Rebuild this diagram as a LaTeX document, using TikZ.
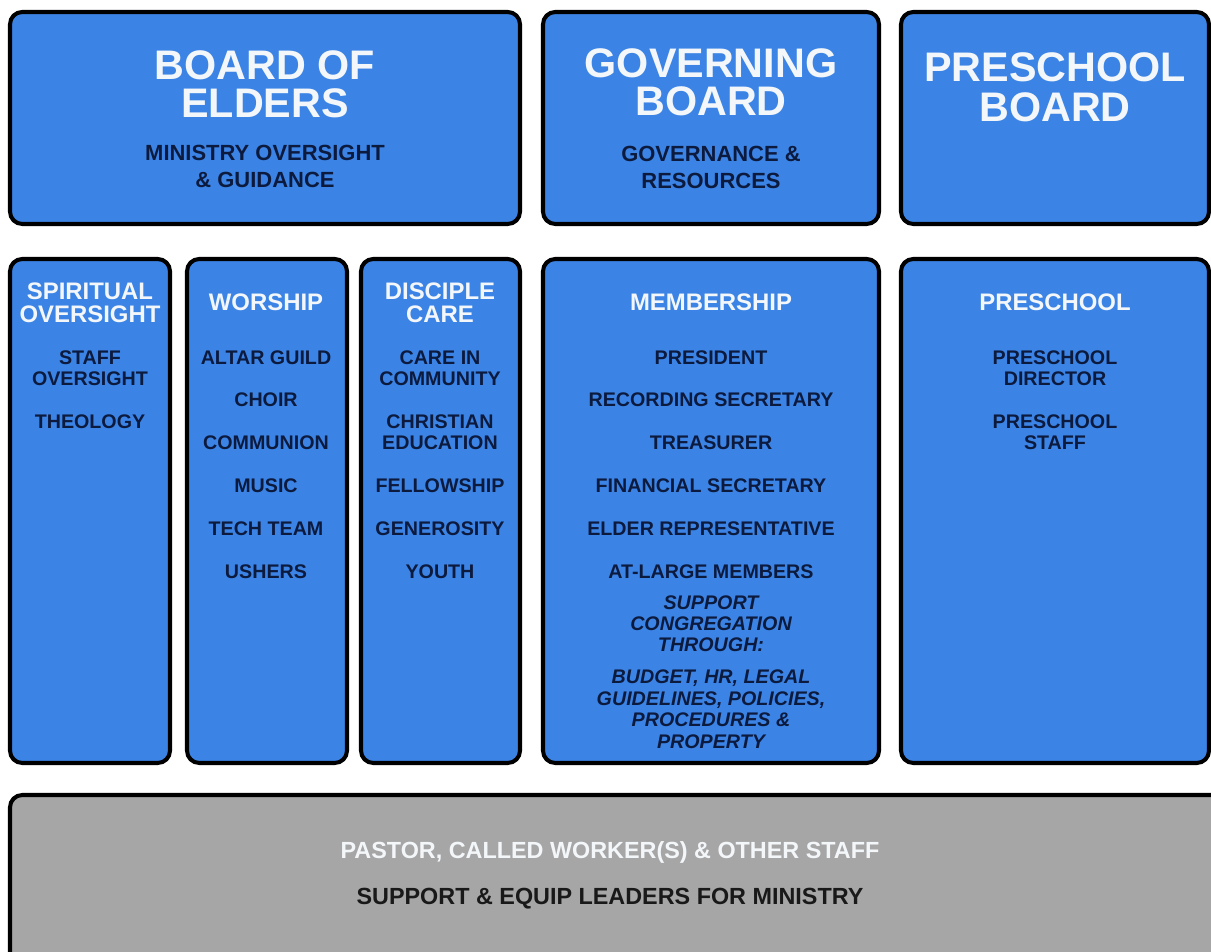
\documentclass[tikz,border=0pt]{standalone}
\usepackage{fontspec}
\setmainfont{Liberation Sans}
\usetikzlibrary{positioning}
\definecolor{boxblue}{RGB}{59,132,230}
\definecolor{inkblue}{RGB}{12,26,62}
\definecolor{paleblue}{RGB}{244,247,250}
\definecolor{staffgrey}{RGB}{166,166,166}

\begin{document}
\begin{tikzpicture}[x=0.02cm,y=-0.02cm,
		panel/.style={draw=black,line width=2.3pt,rounded corners=7pt,fill=boxblue},
		board/.style={font=\bfseries\fontsize{23.5}{22}\selectfont,text=paleblue,align=center,anchor=north,inner sep=0pt},
		remit/.style={font=\bfseries\fontsize{12.5}{15.3}\selectfont,text=inkblue,align=center,anchor=north,inner sep=0pt},
		coltitle/.style={font=\bfseries\fontsize{13.6}{13.6}\selectfont,text=paleblue,align=center,anchor=north,inner sep=0pt},
		duties/.style={font=\bfseries\fontsize{11.2}{12.2}\selectfont,text=inkblue,align=center,anchor=north,inner sep=0pt},
		staffline/.style={font=\bfseries\fontsize{13.3}{14}\selectfont,anchor=north,inner sep=0pt}]
		\def\gap{12.2pt}
		\useasboundingbox (0,0) rectangle (1211,952);
		\clip (0,0) rectangle (1211,952);
		% boards
		\draw[panel] (10,12) rectangle (520,224);
		\draw[panel] (543,12) rectangle (879,224);
		\draw[panel] (901,12) rectangle (1209,224);
		% ministry columns
		\draw[panel] (10,259) rectangle (170,763);
		\draw[panel] (187,259) rectangle (347,763);
		\draw[panel] (361,259) rectangle (520,763);
		\draw[panel] (543,259) rectangle (879,763);
		\draw[panel] (901,259) rectangle (1209,763);
		% staff band
		\draw[panel,fill=staffgrey] (10,795) rectangle (1230,975);

		\node[board] (elders) at (265,50) {BOARD OF\\ELDERS};
		\node[remit] (eldersremit) at (265,145) {MINISTRY OVERSIGHT\\\& GUIDANCE};
		\node[board] (governing) at (711,48) {GOVERNING\\BOARD};
		\node[remit] (govremit) at (711,146) {GOVERNANCE \&\\RESOURCES};
		\node[board,font=\bfseries\fontsize{23.5}{23.2}\selectfont] (psboard) at (1055,52) {PRESCHOOL\\BOARD};

		\node[coltitle] (spiritual) at (90,282) {SPIRITUAL\\OVERSIGHT};
		\node[duties] (spiritualjobs) at (90,350) {STAFF\\OVERSIGHT\\[\gap]THEOLOGY};

		\node[coltitle] (worship) at (266,293.5) {WORSHIP};
		\node[duties] (worshipjobs) at (266,350) {ALTAR GUILD\\[\gap]CHOIR\\[\gap]COMMUNION\\[\gap]MUSIC\\[\gap]TECH TEAM\\[\gap]USHERS};

		\node[coltitle] (disciple) at (440,282) {DISCIPLE\\CARE};
		\node[duties] (disciplejobs) at (440,350) {CARE IN\\COMMUNITY\\[\gap]CHRISTIAN\\EDUCATION\\[\gap]FELLOWSHIP\\[\gap]GENEROSITY\\[\gap]YOUTH};

		\node[coltitle] (membership) at (711,293.5) {MEMBERSHIP};
		\node[duties] (memberjobs) at (711,350) {PRESIDENT\\[\gap]RECORDING SECRETARY\\[\gap]TREASURER\\[\gap]FINANCIAL SECRETARY\\[\gap]ELDER REPRESENTATIVE\\[\gap]AT-LARGE MEMBERS};
		\node[duties,font=\bfseries\itshape\fontsize{11.2}{12.2}\selectfont] (membernote) at (711,595) {SUPPORT\\CONGREGATION\\THROUGH:\\[5.9pt]BUDGET, HR, LEGAL\\GUIDELINES, POLICIES,\\PROCEDURES \&\\PROPERTY};

		\node[coltitle] (preschool) at (1055,293.5) {PRESCHOOL};
		\node[duties] (preschooljobs) at (1055,350) {PRESCHOOL\\DIRECTOR\\[\gap]PRESCHOOL\\STAFF};

		\node[staffline,text=paleblue] (pastor) at (610,841.5) {PASTOR, CALLED WORKER(S) \& OTHER STAFF};
		\node[staffline,text=black!90] (equip) at (610,887.5) {SUPPORT \& EQUIP LEADERS FOR MINISTRY};
	\end{tikzpicture}
\end{document}
